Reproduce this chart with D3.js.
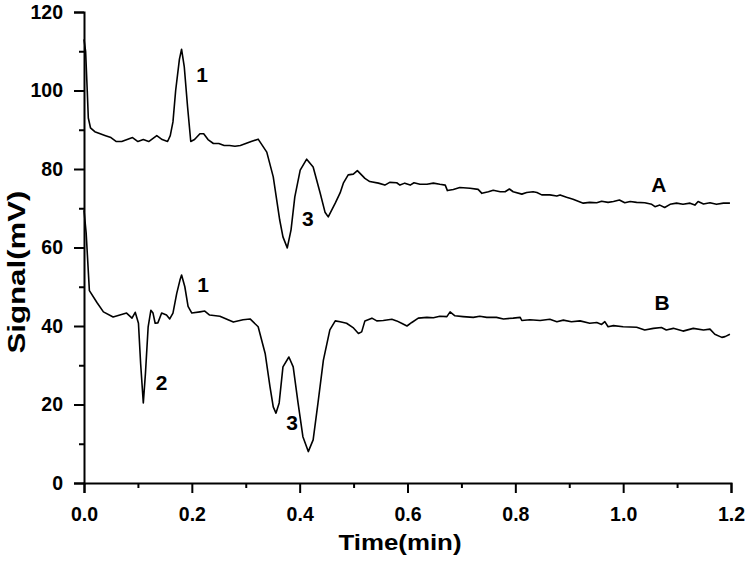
<!DOCTYPE html>
<html>
<head>
<meta charset="utf-8">
<script src="https://cdn.jsdelivr.net/npm/d3@7.9.0/dist/d3.min.js"></script>
<style>
  body { margin: 0; background: #fff; }
  svg { display: block; font-family: "Liberation Sans", Arial, sans-serif; }
</style>
</head>
<body>
<svg id="chart" width="746" height="561"></svg>
<script>
// Trace A: [time (min), signal (mV)]
const traceA = [
  [0, 113], [0.003, 110], [0.006, 100], [0.008, 93], [0.012, 90.5], [0.02, 89.5],
  [0.03, 89], [0.04, 88.5], [0.05, 88], [0.06, 87], [0.07, 87], [0.08, 87.5],
  [0.09, 88], [0.10, 87], [0.11, 87.5], [0.12, 87], [0.135, 88.5], [0.145, 87.5],
  [0.155, 87], [0.16, 88.5], [0.165, 92], [0.17, 100], [0.177, 108], [0.181, 110.5],
  [0.186, 106], [0.192, 96], [0.198, 87], [0.205, 87.5], [0.215, 89], [0.222, 89],
  [0.23, 87.5], [0.24, 86.5], [0.25, 86.5], [0.26, 86], [0.27, 86], [0.28, 85.8],
  [0.29, 86], [0.30, 86.5], [0.31, 87], [0.323, 87.6], [0.339, 84.3], [0.351, 78],
  [0.363, 67], [0.369, 62.7], [0.377, 59.9], [0.384, 64.5], [0.391, 72.9], [0.401, 79.7],
  [0.413, 82.5], [0.425, 80.5], [0.438, 73.9], [0.447, 69], [0.453, 67.8], [0.466, 71.3],
  [0.475, 73.9], [0.481, 76.4], [0.490, 78.5], [0.4995, 78.7], [0.507, 79.6], [0.512, 78.9],
  [0.521, 77.6], [0.530, 76.8], [0.546, 76.4], [0.558, 75.9], [0.567, 76.6], [0.580, 76.5],
  [0.586, 75.9], [0.595, 76.4], [0.605, 75.9], [0.612, 76.5], [0.623, 76.1], [0.636, 76.1],
  [0.648, 76.4], [0.660, 76.1], [0.670, 75.9], [0.674, 74.5], [0.685, 74.8], [0.697, 75.3],
  [0.716, 75.1], [0.731, 74.8], [0.738, 73.8], [0.750, 74.2], [0.759, 74.6], [0.772, 74.2],
  [0.781, 74.2], [0.789, 74.9], [0.796, 74.2], [0.812, 73.6], [0.821, 74.0], [0.833, 74.2],
  [0.840, 74.0], [0.849, 73.4], [0.864, 73.4], [0.877, 73.1], [0.883, 73.4], [0.895, 72.8],
  [0.907, 72.3], [0.926, 71.3], [0.938, 71.5], [0.951, 71.4], [0.960, 71.8], [0.972, 71.5],
  [0.982, 71.7], [0.993, 72.1], [1.003, 71.4], [1.013, 71.7], [1.025, 71.5], [1.040, 71.4],
  [1.053, 71.0], [1.059, 70.4], [1.068, 70.8], [1.077, 70.2], [1.087, 71.0], [1.099, 71.3],
  [1.111, 71.0], [1.124, 71.3], [1.133, 70.8], [1.139, 71.7], [1.149, 71.1], [1.161, 71.4],
  [1.173, 71.0], [1.186, 71.3], [1.198, 71.3]
];

// Trace B: [time (min), signal (mV)]
const traceB = [
  [0, 69.5], [0.004, 63.7], [0.01, 49], [0.024, 46], [0.036, 43.6], [0.054, 42.3],
  [0.079, 43.3], [0.089, 42], [0.095, 43.5], [0.101, 40.7], [0.105, 30.5], [0.11, 20.4],
  [0.114, 28], [0.119, 39.8], [0.124, 44], [0.128, 43.3], [0.132, 40.7], [0.137, 40.8],
  [0.144, 43.3], [0.153, 42.8], [0.159, 41.8], [0.165, 43.3], [0.172, 48.3], [0.178, 51.7],
  [0.181, 53], [0.187, 50], [0.193, 45], [0.2, 43.3], [0.215, 43.6], [0.224, 43.8],
  [0.233, 42.8], [0.252, 42.5], [0.277, 41], [0.295, 41.6], [0.308, 41.8], [0.323, 39.8],
  [0.336, 33], [0.345, 24.5], [0.351, 19.4], [0.356, 17.8], [0.362, 20.4], [0.369, 29.6],
  [0.380, 32.1], [0.388, 29.6], [0.397, 20.4], [0.406, 11.8], [0.416, 8], [0.425, 11],
  [0.434, 20.4], [0.444, 31.3], [0.456, 39], [0.466, 41.3], [0.475, 41.1], [0.487, 40.7],
  [0.499, 39.6], [0.509, 38.1], [0.515, 38.5], [0.521, 41.3], [0.534, 42.0], [0.543, 41.3],
  [0.555, 41.4], [0.571, 41.7], [0.580, 41.3], [0.589, 40.7], [0.599, 40.0], [0.608, 40.9],
  [0.620, 42.0], [0.636, 42.2], [0.648, 42.1], [0.660, 42.5], [0.673, 42.4], [0.679, 43.6],
  [0.688, 42.6], [0.703, 42.4], [0.722, 42.2], [0.734, 42.5], [0.747, 42.2], [0.765, 42.2],
  [0.778, 41.8], [0.796, 42.0], [0.809, 42.2], [0.812, 41.4], [0.827, 41.6], [0.846, 41.4],
  [0.864, 41.7], [0.877, 41.1], [0.889, 41.5], [0.904, 41.1], [0.920, 41.3], [0.938, 40.7],
  [0.951, 40.9], [0.960, 40.4], [0.966, 41.1], [0.972, 39.8], [0.982, 40.1], [1.000, 39.8],
  [1.025, 39.7], [1.040, 39.0], [1.056, 39.4], [1.071, 39.6], [1.080, 39.0], [1.093, 39.4],
  [1.111, 38.7], [1.130, 39.4], [1.149, 39.0], [1.161, 39.2], [1.170, 37.9], [1.183, 37.1],
  [1.189, 37.3], [1.198, 37.9]
];

const xTicks = [0, 0.2, 0.4, 0.6, 0.8, 1.0, 1.2];
const xMinorTicks = [0.1, 0.3, 0.5, 0.7, 0.9, 1.1];
const yTicks = [0, 20, 40, 60, 80, 100, 120];
const yMinorTicks = [10, 30, 50, 70, 90, 110];

// Peak labels: [text, time, signal]
const peakLabels = [
  ['1', 0.219, 104], ['1', 0.221, 50.7], ['2', 0.144, 25.5],
  ['3', 0.415, 67.5], ['3', 0.386, 15.3], ['A', 1.066, 76], ['B', 1.072, 46]
];

const svg = d3.select('#chart');
const margin = { top: 12, left: 84 };
const width = 647, height = 471;

const x = d3.scaleLinear().domain([0, 1.2]).range([margin.left, margin.left + width]);
const y = d3.scaleLinear().domain([0, 120]).range([margin.top + height, margin.top]);

// Axes with outward major and minor ticks
const xAxis = svg.append('g').attr('transform', `translate(0,${y(0)})`)
  .call(d3.axisBottom(x).tickValues(xTicks).tickFormat(d3.format('.1f')).tickSize(10).tickPadding(14));
svg.append('g').attr('transform', `translate(0,${y(0)})`)
  .call(d3.axisBottom(x).tickValues(xMinorTicks).tickFormat('').tickSize(5))
  .select('.domain').remove();

svg.append('g').attr('transform', `translate(${x(0)},0)`)
  .call(d3.axisLeft(y).tickValues(yTicks).tickSize(10).tickPadding(11));
svg.append('g').attr('transform', `translate(${x(0)},0)`)
  .call(d3.axisLeft(y).tickValues(yMinorTicks).tickFormat('').tickSize(5))
  .select('.domain').remove();

svg.selectAll('.domain').attr('stroke', '#000').attr('stroke-width', 2);
svg.selectAll('.tick line').attr('stroke', '#000').attr('stroke-width', 2);
svg.selectAll('.tick text')
  .attr('font-size', 19.5).attr('font-weight', 'bold').attr('fill', '#000')
  .attr('font-family', '"Liberation Sans", Arial, sans-serif');

// Axis titles
svg.append('text')
  .attr('x', 400).attr('y', 550)
  .attr('text-anchor', 'middle')
  .attr('font-size', 22).attr('font-weight', 'bold')
  .attr('textLength', 123).attr('lengthAdjust', 'spacingAndGlyphs')
  .text('Time(min)');
svg.append('text')
  .attr('transform', 'translate(25,272) rotate(-90)')
  .attr('text-anchor', 'middle')
  .attr('font-size', 24).attr('font-weight', 'bold')
  .attr('textLength', 163).attr('lengthAdjust', 'spacingAndGlyphs')
  .text('Signal(mV)');

// Traces
const line = d3.line().x(d => x(d[0])).y(d => y(d[1]));
[traceA, traceB].forEach(trace => {
  svg.append('path')
    .datum(trace)
    .attr('d', line)
    .attr('fill', 'none')
    .attr('stroke', '#000')
    .attr('stroke-width', 1.6)
    .attr('stroke-linejoin', 'round');
});

// Peak labels
svg.selectAll('.peak')
  .data(peakLabels)
  .enter()
  .append('text')
  .attr('class', 'peak')
  .attr('x', d => x(d[1]))
  .attr('y', d => y(d[2]))
  .attr('text-anchor', 'middle')
  .attr('dominant-baseline', 'central')
  .attr('font-size', 21).attr('font-weight', 'bold')
  .text(d => d[0]);
</script>
</body>
</html>
